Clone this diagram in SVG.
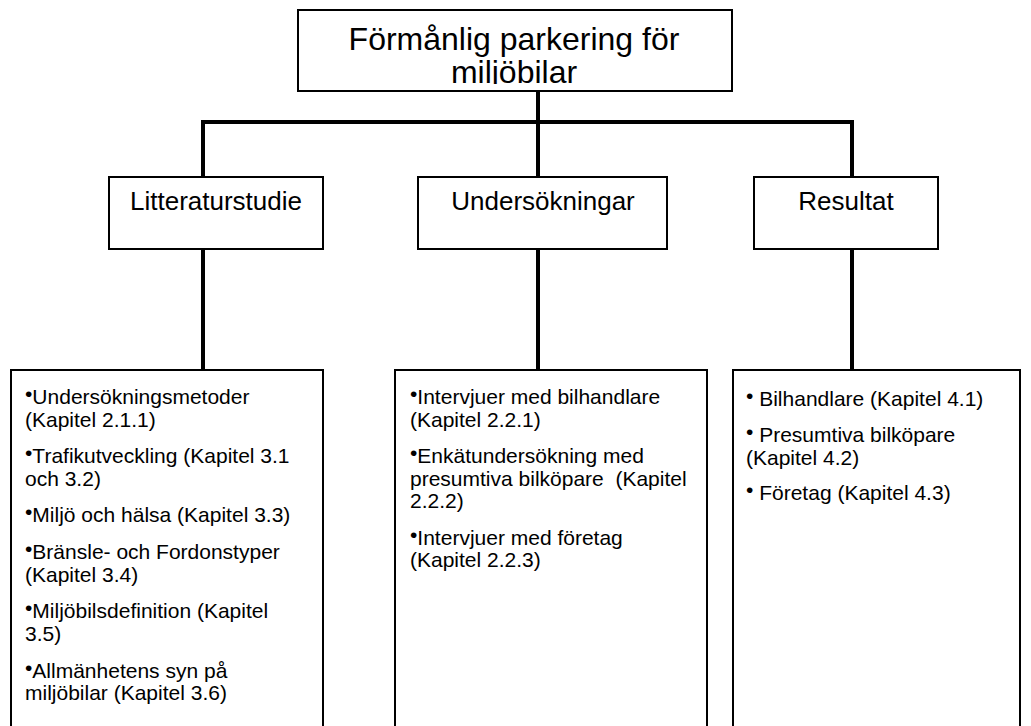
<svg xmlns="http://www.w3.org/2000/svg" width="1031" height="726" viewBox="0 0 1031 726">
<style>
.box{fill:#fff;stroke:#000;stroke-width:2}
.con{stroke:#000;stroke-width:4;fill:none;stroke-linecap:square}
text{font-family:"Liberation Sans",Arial,sans-serif;fill:#000}
.title{font-size:32px;text-anchor:middle}
.mid{font-size:26px;text-anchor:middle}
.item{font-size:21px}
</style>
<defs>
<clipPath id="tclip"><rect x="298" y="10" width="434" height="74"/></clipPath>
</defs>
<rect width="1031" height="726" fill="#fff"/>
<g id="connectors">
<line class="con" x1="538" y1="91" x2="538" y2="122"/>
<line class="con" x1="203" y1="122" x2="852" y2="122"/>
<line class="con" x1="203" y1="122" x2="203" y2="177"/>
<line class="con" x1="538" y1="122" x2="538" y2="177"/>
<line class="con" x1="852" y1="122" x2="852" y2="177"/>
<line class="con" x1="203" y1="249" x2="203" y2="370"/>
<line class="con" x1="538" y1="249" x2="538" y2="370"/>
<line class="con" x1="852" y1="249" x2="852" y2="370"/>
</g>
<g id="root">
<rect class="box" x="298" y="10" width="434" height="81"/>
<g clip-path="url(#tclip)">
<text class="title" x="514" y="50">Förmånlig parkering för</text>
<text class="title" x="514" y="83">miljöbilar</text>
</g>
</g>
<g id="litteraturstudie">
<rect class="box" x="109" y="177" width="214" height="72"/>
<text class="mid" x="216" y="210">Litteraturstudie</text>
</g>
<g id="undersokningar">
<rect class="box" x="418" y="177" width="249" height="72"/>
<text class="mid" x="543" y="210">Undersökningar</text>
</g>
<g id="resultat">
<rect class="box" x="754" y="177" width="184" height="72"/>
<text class="mid" x="846" y="210">Resultat</text>
</g>
<g id="lit-details">
<rect class="box" x="11" y="370" width="312" height="370"/>
<text class="item" x="25" y="404"><tspan dy="-3">•</tspan><tspan dy="3">Undersökningsmetoder</tspan></text>
<text class="item" x="25" y="426.5">(Kapitel 2.1.1)</text>
<text class="item" x="25" y="463"><tspan dy="-3">•</tspan><tspan dy="3">Trafikutveckling (Kapitel 3.1</tspan></text>
<text class="item" x="25" y="485.5">och 3.2)</text>
<text class="item" x="25" y="522"><tspan dy="-3">•</tspan><tspan dy="3">Miljö och hälsa (Kapitel 3.3)</tspan></text>
<text class="item" x="25" y="559"><tspan dy="-3">•</tspan><tspan dy="3">Bränsle- och Fordonstyper</tspan></text>
<text class="item" x="25" y="581.5">(Kapitel 3.4)</text>
<text class="item" x="25" y="618"><tspan dy="-3">•</tspan><tspan dy="3">Miljöbilsdefinition (Kapitel</tspan></text>
<text class="item" x="25" y="640.5">3.5)</text>
<text class="item" x="25" y="677.5"><tspan dy="-3">•</tspan><tspan dy="3">Allmänhetens syn på</tspan></text>
<text class="item" x="25" y="700">miljöbilar (Kapitel 3.6)</text>
</g>
<g id="und-details">
<rect class="box" x="395" y="370" width="312" height="370"/>
<text class="item" x="410" y="404"><tspan dy="-3">•</tspan><tspan dy="3">Intervjuer med bilhandlare</tspan></text>
<text class="item" x="410" y="426.5">(Kapitel 2.2.1)</text>
<text class="item" x="410" y="463"><tspan dy="-3">•</tspan><tspan dy="3">Enkätundersökning med</tspan></text>
<text class="item" x="410" y="485.5" xml:space="preserve">presumtiva bilköpare  (Kapitel</text>
<text class="item" x="410" y="508">2.2.2)</text>
<text class="item" x="410" y="544.5"><tspan dy="-3">•</tspan><tspan dy="3">Intervjuer med företag</tspan></text>
<text class="item" x="410" y="567">(Kapitel 2.2.3)</text>
</g>
<g id="res-details">
<rect class="box" x="733" y="370" width="287" height="370"/>
<text class="item" x="746" y="406" xml:space="preserve"><tspan dy="-3">•</tspan><tspan dy="3"> Bilhandlare (Kapitel 4.1)</tspan></text>
<text class="item" x="746" y="442" xml:space="preserve"><tspan dy="-3">•</tspan><tspan dy="3"> Presumtiva bilköpare</tspan></text>
<text class="item" x="746" y="465">(Kapitel 4.2)</text>
<text class="item" x="746" y="500" xml:space="preserve"><tspan dy="-3">•</tspan><tspan dy="3"> Företag (Kapitel 4.3)</tspan></text>
</g>
</svg>
